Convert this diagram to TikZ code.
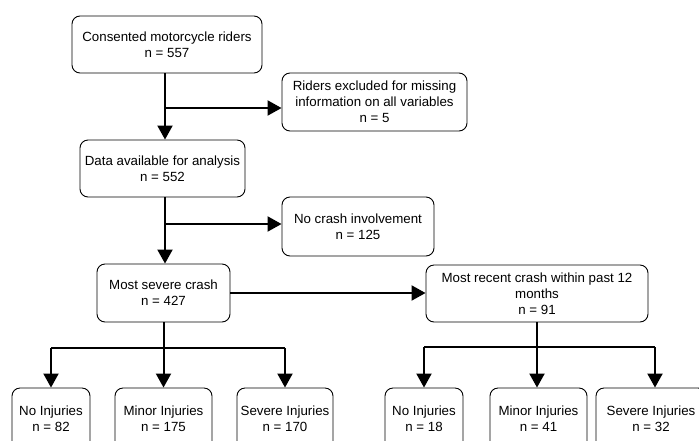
\documentclass[tikz,border=0pt]{standalone}
\usepackage{fontspec}
\setmainfont{Liberation Sans}
\usetikzlibrary{arrows.meta,calc}
\begin{document}
\begin{tikzpicture}[x=1pt,y=-1pt,
  box/.style={draw=black,line width=0.9pt,rounded corners=8pt,fill=white,
    align=center,inner sep=2pt,font=\fontsize{13.3}{16}\selectfont},
  arr/.style={line width=2pt,-{Triangle[width=15pt,length=14pt]}},
  lnk/.style={line width=2pt}]
\useasboundingbox (0,0) rectangle (699,440);
\clip (0,0) rectangle (699,440);

% top of the flow
\node[box,minimum width=190pt,minimum height=57pt] (cons) at (167,44.5)
  {Consented motorcycle riders\\n = 557};
\node[box,minimum width=185pt,minimum height=58pt] (excl) at (374.5,102)
  {Riders excluded for missing\\information on all variables\\n = 5};
\node[box,minimum width=165pt,minimum height=57pt] (data) at (162.5,168.5)
  {Data available for analysis\\n = 552};
\node[box,minimum width=152pt,minimum height=59pt] (nocr) at (358,226.5)
  {No crash involvement\\n = 125};
\node[box,minimum width=133pt,minimum height=58pt] (sev) at (163.5,293)
  {Most severe crash\\n = 427};
\node[box,minimum width=222pt,minimum height=57pt] (rec) at (537,293.5)
  {Most recent crash within past 12\\months\\n = 91};

% injury outcome boxes
\node[box,minimum width=78pt,minimum height=62pt] (sa) at (51,419) {No Injuries\\n = 82};
\node[box,minimum width=97pt,minimum height=62pt] (sb) at (163.5,419) {Minor Injuries\\n = 175};
\node[box,minimum width=96pt,minimum height=62pt] (sc) at (285,419) {Severe Injuries\\n = 170};
\node[box,minimum width=78pt,minimum height=62pt] (ra) at (424,419) {No Injuries\\n = 18};
\node[box,minimum width=97pt,minimum height=62pt] (rb) at (538.5,419) {Minor Injuries\\n = 41};
\node[box,minimum width=110pt,minimum height=62pt] (rc) at (651,419) {Severe Injuries\\n = 32};

% main trunk
\coordinate (t1) at (165,73);
\coordinate (j1) at (165,108);
\draw[arr] (t1) -- (t1 |- data.north);
\draw[arr] (j1) -- (j1 -| excl.west);
\coordinate (t2) at (165,197);
\coordinate (j2) at (165,224);
\draw[arr] (t2) -- (t2 |- sev.north);
\draw[arr] (j2) -- (j2 -| nocr.west);
\draw[arr] (sev.east) -- (sev.east -| rec.west);

% left split
\coordinate (b1) at (163.5,348);
\draw[lnk] (sev.south) -- (b1);
\draw[lnk] (sa.north |- b1) -- (sc.north |- b1);
\draw[arr] (sa.north |- b1) -- (sa.north);
\draw[arr] (b1) -- (sb.north);
\draw[arr] (sc.north |- b1) -- (sc.north);

% right split
\coordinate (b2) at (537,347);
\coordinate (r1) at (424,347);
\coordinate (r3) at (655,347);
\draw[lnk] (rec.south) -- (b2);
\draw[lnk] (r1) -- (r3);
\draw[arr] (r1) -- (r1 |- ra.north);
\draw[arr] (b2) -- (b2 |- rb.north);
\draw[arr] (r3) -- (r3 |- rc.north);
\end{tikzpicture}
\end{document}
